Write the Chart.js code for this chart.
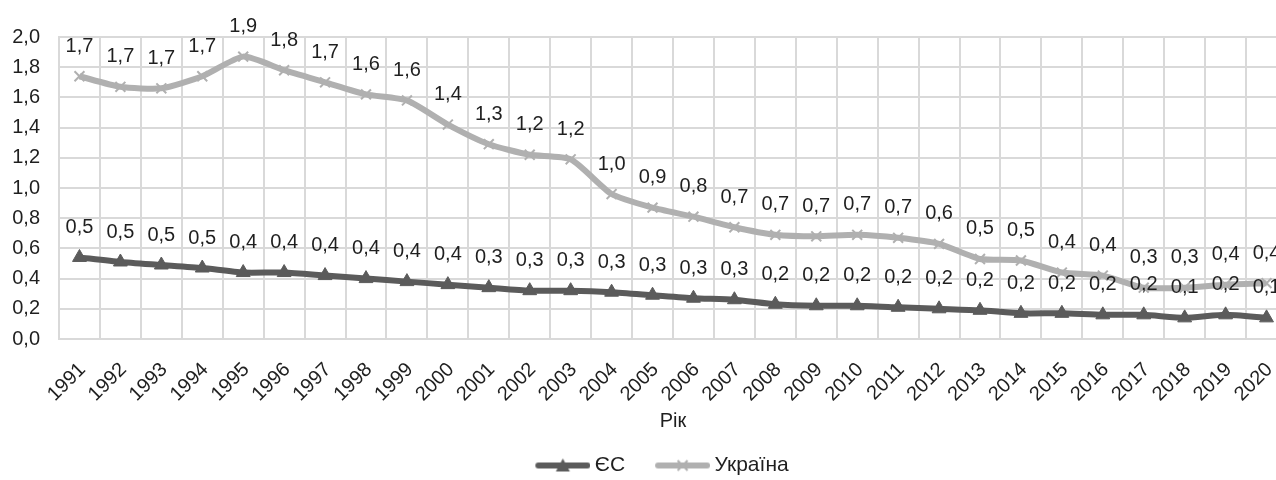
<!DOCTYPE html>
<html>
<head>
<meta charset="utf-8">
<script src="https://cdn.jsdelivr.net/npm/chart.js@4/dist/chart.umd.min.js"></script>
<style>
  html, body { margin: 0; padding: 0; background: #fff; overflow: hidden; }
  #wrap { width: 1318px; height: 480px; }
</style>
</head>
<body>
<div id="wrap"><canvas id="chart"></canvas></div>
<script>
var years = ['1991','1992','1993','1994','1995','1996','1997','1998','1999','2000',
             '2001','2002','2003','2004','2005','2006','2007','2008','2009','2010',
             '2011','2012','2013','2014','2015','2016','2017','2018','2019','2020'];

var eu = [0.54, 0.51, 0.49, 0.47, 0.44, 0.44, 0.42, 0.40, 0.38, 0.36,
          0.34, 0.32, 0.32, 0.31, 0.29, 0.27, 0.26, 0.23, 0.22, 0.22,
          0.21, 0.20, 0.19, 0.17, 0.17, 0.16, 0.16, 0.14, 0.16, 0.14];

var ukraine = [1.74, 1.67, 1.66, 1.74, 1.87, 1.78, 1.70, 1.62, 1.58, 1.42,
               1.29, 1.22, 1.19, 0.96, 0.87, 0.81, 0.74, 0.69, 0.68, 0.69,
               0.67, 0.63, 0.53, 0.52, 0.44, 0.42, 0.34, 0.34, 0.36, 0.37];

var euColor = '#5b5b5b';
var uaColor = '#b0b0b0';
var fontFamily = '"Liberation Sans", Arial, sans-serif';

function fmt(v) {
    return v.toFixed(1).replace('.', ',');
}

// legend icon: thick line with the marker in the middle (blank on the left = gap between items)
function legendIcon(color, kind) {
    var c = document.createElement('canvas');
    c.width = 86; c.height = 16;
    var g = c.getContext('2d');
    g.strokeStyle = color;
    g.lineWidth = 6;
    g.lineCap = 'round';
    g.beginPath(); g.moveTo(34, 8); g.lineTo(83, 8); g.stroke();
    var mx = 58.5;
    if (kind == 'triangle') {
        g.fillStyle = color;
        g.beginPath(); g.moveTo(mx, 1); g.lineTo(mx + 7, 14); g.lineTo(mx - 7, 14); g.closePath(); g.fill();
    } else {
        g.lineWidth = 2;
        g.lineCap = 'butt';
        g.beginPath();
        g.moveTo(mx - 5, 3); g.lineTo(mx + 5, 13);
        g.moveTo(mx + 5, 3); g.lineTo(mx - 5, 13);
        g.stroke();
    }
    return c;
}
var icons = [legendIcon(euColor, 'triangle'), legendIcon(uaColor, 'cross')];

var valueLabels = {
    id: 'valueLabels',
    afterDatasetsDraw: function(chart) {
        var ctx = chart.ctx;
        ctx.save();
        ctx.font = '20px ' + fontFamily;
        ctx.fillStyle = '#1f1f1f';
        ctx.textAlign = 'center';
        ctx.textBaseline = 'middle';
        chart.data.datasets.forEach(function(ds, i) {
            chart.getDatasetMeta(i).data.forEach(function(pt, j) {
                ctx.fillText(fmt(ds.data[j]), pt.x, pt.y - 30);
            });
        });
        ctx.restore();
    }
};

Chart.defaults.font.family = fontFamily;
Chart.defaults.font.size = 20;
Chart.defaults.color = '#1f1f1f';

var ctx = document.getElementById('chart').getContext('2d');
var myChart = new Chart(ctx, {
    type: 'line',
    data: {
        labels: years,
        datasets: [{
            label: 'ЄС',
            data: eu,
            borderColor: euColor,
            backgroundColor: euColor,
            borderWidth: 6,
            pointStyle: 'triangle',
            pointRadius: 8,
            pointBorderWidth: 1,
            tension: 0.2
        }, {
            label: 'Україна',
            data: ukraine,
            borderColor: uaColor,
            backgroundColor: uaColor,
            borderWidth: 6,
            pointStyle: 'crossRot',
            pointRadius: 7,
            pointBorderWidth: 2,
            tension: 0.2
        }]
    },
    options: {
        responsive: true,
        maintainAspectRatio: false,
        animation: false,
        layout: {
            autoPadding: false,
            padding: { left: 12, right: 31, top: 37, bottom: -6 }
        },
        scales: {
            x: {
                offset: true,
                grid: { color: '#d9d9d9', lineWidth: 2, offset: true, drawTicks: false },
                border: { color: '#d9d9d9', width: 2 },
                ticks: { autoSkip: false, minRotation: 45, maxRotation: 45, padding: 19, labelOffset: 3 },
                title: { display: true, text: 'Рік', padding: { top: 0, bottom: 17 } },
                afterFit: function(scale) {
                    scale.height = 111;
                    scale.paddingLeft = 0;
                    scale.paddingRight = 0;
                }
            },
            y: {
                min: 0,
                max: 2,
                grid: { color: '#d9d9d9', lineWidth: 2, drawTicks: false },
                border: { color: '#d9d9d9', width: 2 },
                ticks: {
                    stepSize: 0.2,
                    padding: 19,
                    callback: function(v) { return fmt(v); }
                },
                afterFit: function(scale) {
                    scale.width = 47;
                }
            }
        },
        plugins: {
            legend: {
                position: 'bottom',
                labels: {
                    usePointStyle: true,
                    pointStyleWidth: 74,
                    padding: 5,
                    font: { size: 21 },
                    generateLabels: function(chart) {
                        var items = Chart.defaults.plugins.legend.labels.generateLabels(chart);
                        items.forEach(function(it, i) { it.pointStyle = icons[i]; });
                        return items;
                    }
                }
            },
            tooltip: { enabled: false }
        }
    },
    plugins: [valueLabels]
});
</script>
</body>
</html>
